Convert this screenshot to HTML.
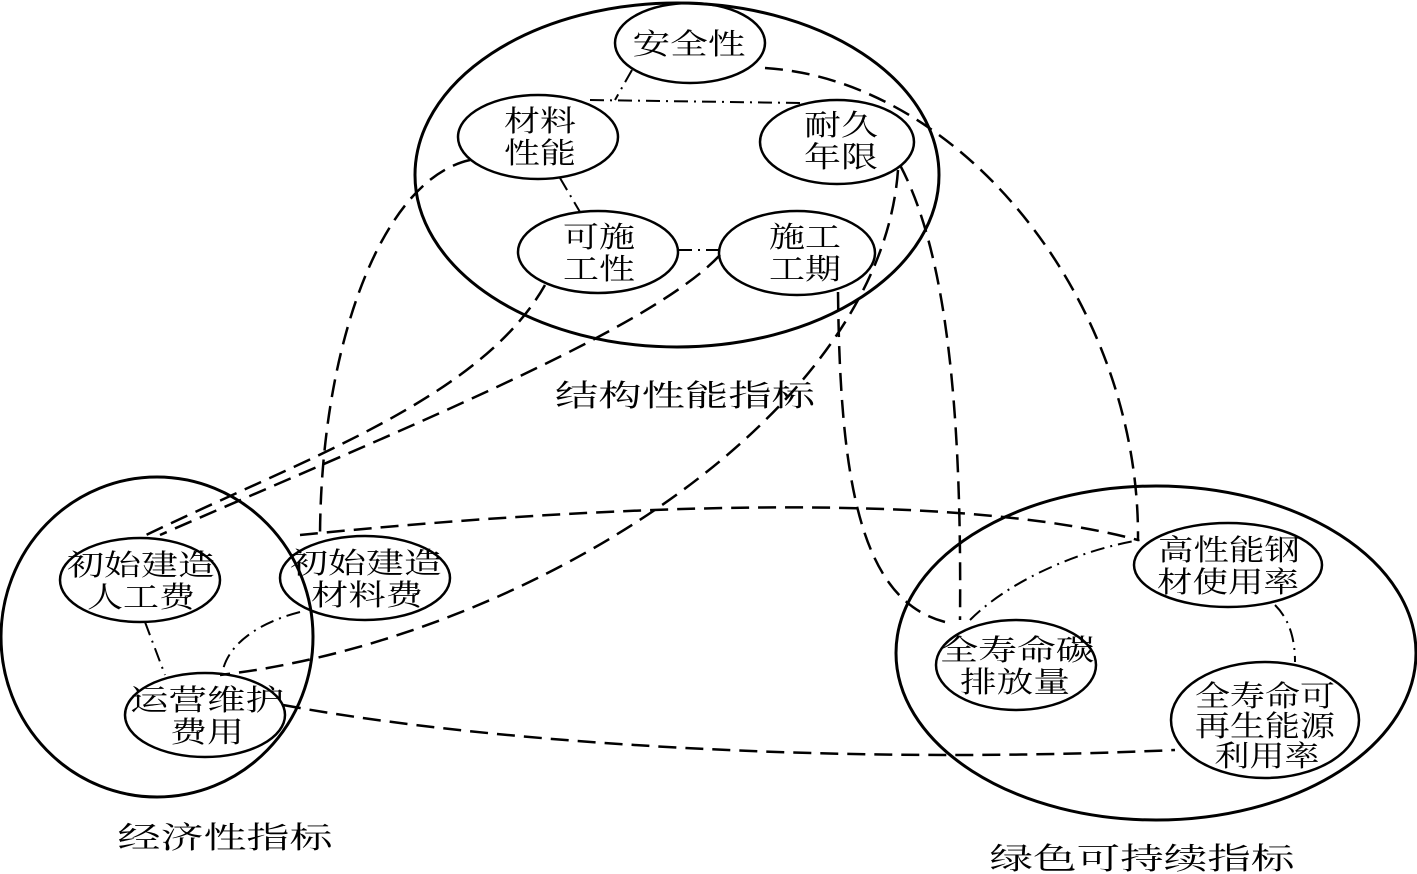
<!DOCTYPE html>
<html><head><meta charset="utf-8"><style>
html,body{margin:0;padding:0;background:#fff;}
svg{display:block}
text{font-family:"Liberation Serif","Noto Serif CJK SC","Noto Sans CJK SC",serif;fill:#000;text-anchor:middle}
</style></head><body>
<svg width="1417" height="874" viewBox="0 0 1417 874" xmlns="http://www.w3.org/2000/svg">
<g fill="none" stroke="#000" stroke-width="3">
<ellipse cx="677" cy="175" rx="262" ry="172"/>
<ellipse cx="157" cy="637" rx="156" ry="160"/>
<ellipse cx="1156" cy="653" rx="260" ry="167"/>
<g stroke-width="2.5">
<ellipse cx="690" cy="43" rx="75" ry="40"/>
<ellipse cx="538" cy="137" rx="80" ry="42"/>
<ellipse cx="837" cy="142" rx="77" ry="42"/>
<ellipse cx="598" cy="252" rx="80" ry="41"/>
<ellipse cx="797" cy="253" rx="78" ry="42"/>
<ellipse cx="140" cy="580" rx="80" ry="42"/>
<ellipse cx="365" cy="578" rx="85" ry="42"/>
<ellipse cx="205" cy="715" rx="80" ry="42"/>
<ellipse cx="1228" cy="565" rx="94" ry="42"/>
<ellipse cx="1016" cy="665" rx="80" ry="45"/>
<ellipse cx="1265" cy="720" rx="94" ry="58"/>
</g>
</g>
<g fill="none" stroke="#000" stroke-width="2.5" stroke-dasharray="18,9">
<path d="M765,68 C960,80 1140,300 1138,540"/>
<path d="M470,160 C380,180 320,350 320,540"/>
<path d="M545,285 C480,400 300,460 140,538"/>
<path d="M720,255 C650,330 400,430 160,535"/>
<path d="M898,170 C880,420 520,640 220,675"/>
<path d="M900,165 C945,250 962,400 960,620"/>
<path d="M838,292 C840,480 860,600 945,622"/>
<path d="M300,535 C600,505 950,490 1138,540"/>
<path d="M283,705 C500,745 850,765 1175,750"/>
</g>
<g fill="none" stroke="#000" stroke-width="2" stroke-dasharray="14,6,2,6">
<path d="M632,70 L615,100"/>
<path d="M590,100 L800,103"/>
<path d="M560,178 L580,212"/>
<path d="M678,250 L720,250"/>
<path d="M145,622 L165,675"/>
<path d="M300,612 C250,625 225,650 222,675"/>
<path d="M970,620 C1010,580 1080,550 1140,540"/>
<path d="M1275,605 C1290,620 1295,640 1295,662"/>
</g>
<g font-size="29">
<text x="689" y="54" textLength="113" lengthAdjust="spacingAndGlyphs">安全性</text>
<text x="540" y="131" textLength="72" lengthAdjust="spacingAndGlyphs">材料</text><text x="540" y="163" textLength="72" lengthAdjust="spacingAndGlyphs">性能</text>
<text x="841" y="135" textLength="74" lengthAdjust="spacingAndGlyphs">耐久</text><text x="841" y="167" textLength="74" lengthAdjust="spacingAndGlyphs">年限</text>
<text x="599" y="247" textLength="72" lengthAdjust="spacingAndGlyphs">可施</text><text x="599" y="279" textLength="72" lengthAdjust="spacingAndGlyphs">工性</text>
<text x="805" y="247" textLength="72" lengthAdjust="spacingAndGlyphs">施工</text><text x="805" y="279" textLength="72" lengthAdjust="spacingAndGlyphs">工期</text>
<text x="141" y="575" textLength="148" lengthAdjust="spacingAndGlyphs">初始建造</text><text x="141" y="607" textLength="108" lengthAdjust="spacingAndGlyphs">人工费</text>
<text x="366" y="573" textLength="152" lengthAdjust="spacingAndGlyphs">初始建造</text><text x="367" y="605" textLength="112" lengthAdjust="spacingAndGlyphs">材料费</text>
<text x="207" y="710" textLength="154" lengthAdjust="spacingAndGlyphs">运营维护</text><text x="207" y="742" textLength="74" lengthAdjust="spacingAndGlyphs">费用</text>
<text x="1229" y="560" textLength="142" lengthAdjust="spacingAndGlyphs">高性能钢</text><text x="1228" y="592" textLength="142" lengthAdjust="spacingAndGlyphs">材使用率</text>
<text x="1017" y="660" textLength="155" lengthAdjust="spacingAndGlyphs">全寿命碳</text><text x="1015" y="692" textLength="110" lengthAdjust="spacingAndGlyphs">排放量</text>
<text x="1265" y="706" textLength="140" lengthAdjust="spacingAndGlyphs">全寿命可</text><text x="1265" y="736" textLength="140" lengthAdjust="spacingAndGlyphs">再生能源</text><text x="1267" y="766" textLength="105" lengthAdjust="spacingAndGlyphs">利用率</text>
</g>
<g font-size="30">
<text x="685" y="406" textLength="260" lengthAdjust="spacingAndGlyphs">结构性能指标</text>
<text x="225" y="848" textLength="215" lengthAdjust="spacingAndGlyphs">经济性指标</text>
<text x="1142" y="869" textLength="305" lengthAdjust="spacingAndGlyphs">绿色可持续指标</text>
</g>
</svg>
</body></html>
